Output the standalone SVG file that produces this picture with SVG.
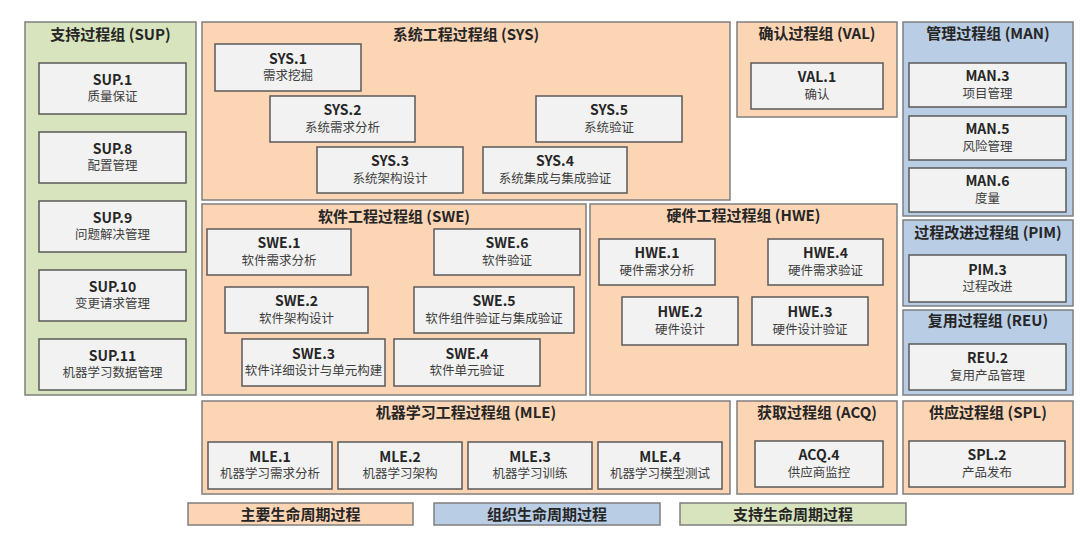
<svg xmlns="http://www.w3.org/2000/svg" width="1080" height="534" viewBox="0 0 1080 534">
<style>
text{font-family:"Noto Sans CJK SC","Noto Sans",sans-serif;text-anchor:middle}
.o{fill:#fcd5b5;stroke:#7f7f7f;stroke-width:1.5}
.b{fill:#b9cde5;stroke:#7f7f7f;stroke-width:1.5}
.g{fill:#d7e4bd;stroke:#7f7f7f;stroke-width:1.5}
.n{fill:#f2f2f2;stroke:#595959;stroke-width:1.5}
.t{font-size:15px;font-weight:bold;fill:#262626}
.id{font-size:14px;font-weight:bold;fill:#262626}
.lb{font-family:"Liberation Sans","Noto Sans CJK SC",sans-serif;font-size:12.5px;fill:#404040}
.lg{font-size:15px;font-weight:bold;fill:#262626}
</style>
<rect width="1080" height="534" fill="#ffffff"/>
<g id="grp-SUP"><rect class="g" x="25" y="22" width="171" height="373"/><text class="t" x="110.5" y="40">支持过程组 (SUP)</text></g>
<g id="grp-SYS"><rect class="o" x="202" y="22" width="528" height="178"/><text class="t" x="466" y="39.5">系统工程过程组 (SYS)</text></g>
<g id="grp-VAL"><rect class="o" x="737" y="22" width="160" height="95"/><text class="t" x="817" y="38.5">确认过程组 (VAL)</text></g>
<g id="grp-MAN"><rect class="b" x="903" y="22" width="170" height="194"/><text class="t" x="988" y="38.5">管理过程组 (MAN)</text></g>
<g id="grp-SWE"><rect class="o" x="202" y="204" width="384" height="191"/><text class="t" x="394" y="222">软件工程过程组 (SWE)</text></g>
<g id="grp-HWE"><rect class="o" x="590" y="204" width="307" height="191"/><text class="t" x="743.5" y="220.5">硬件工程过程组 (HWE)</text></g>
<g id="grp-PIM"><rect class="b" x="903" y="220" width="170" height="86"/><text class="t" x="988" y="237.5">过程改进过程组 (PIM)</text></g>
<g id="grp-REU"><rect class="b" x="903" y="310" width="170" height="85"/><text class="t" x="988" y="325.5">复用过程组 (REU)</text></g>
<g id="grp-MLE"><rect class="o" x="202" y="401" width="528" height="93"/><text class="t" x="466" y="418">机器学习工程过程组 (MLE)</text></g>
<g id="grp-ACQ"><rect class="o" x="737" y="401" width="160" height="93"/><text class="t" x="817" y="418">获取过程组 (ACQ)</text></g>
<g id="grp-SPL"><rect class="o" x="903" y="401" width="170" height="93"/><text class="t" x="988" y="418">供应过程组 (SPL)</text></g>
<g id="SUP1"><rect class="n" x="39" y="63" width="147" height="51"/><text class="id" x="112.5" y="84.5">SUP.1</text><text class="lb" x="112.5" y="101">质量保证</text></g>
<g id="SUP8"><rect class="n" x="39" y="132" width="147" height="51"/><text class="id" x="112.5" y="153.5">SUP.8</text><text class="lb" x="112.5" y="170">配置管理</text></g>
<g id="SUP9"><rect class="n" x="39" y="201" width="147" height="51"/><text class="id" x="112.5" y="222.5">SUP.9</text><text class="lb" x="112.5" y="239">问题解决管理</text></g>
<g id="SUP10"><rect class="n" x="39" y="270" width="147" height="51"/><text class="id" x="112.5" y="291.5">SUP.10</text><text class="lb" x="112.5" y="308">变更请求管理</text></g>
<g id="SUP11"><rect class="n" x="39" y="339" width="147" height="51"/><text class="id" x="112.5" y="360.5">SUP.11</text><text class="lb" x="112.5" y="377">机器学习数据管理</text></g>
<g id="SYS1"><rect class="n" x="215" y="44" width="146" height="47"/><text class="id" x="288" y="63.5">SYS.1</text><text class="lb" x="288" y="80">需求挖掘</text></g>
<g id="SYS2"><rect class="n" x="270" y="96" width="145" height="46"/><text class="id" x="342.5" y="115">SYS.2</text><text class="lb" x="342.5" y="131.5">系统需求分析</text></g>
<g id="SYS3"><rect class="n" x="317" y="147" width="146" height="46"/><text class="id" x="390" y="166">SYS.3</text><text class="lb" x="390" y="182.5">系统架构设计</text></g>
<g id="SYS4"><rect class="n" x="483" y="147" width="144" height="46"/><text class="id" x="555" y="166">SYS.4</text><text class="lb" x="555" y="182.5">系统集成与集成验证</text></g>
<g id="SYS5"><rect class="n" x="536" y="96" width="146" height="46"/><text class="id" x="609" y="115">SYS.5</text><text class="lb" x="609" y="131.5">系统验证</text></g>
<g id="VAL1"><rect class="n" x="751" y="63" width="132" height="46"/><text class="id" x="817" y="82">VAL.1</text><text class="lb" x="817" y="98.5">确认</text></g>
<g id="MAN3"><rect class="n" x="909" y="63" width="157" height="44"/><text class="id" x="987.5" y="81">MAN.3</text><text class="lb" x="987.5" y="97.5">项目管理</text></g>
<g id="MAN5"><rect class="n" x="909" y="116" width="157" height="44"/><text class="id" x="987.5" y="134">MAN.5</text><text class="lb" x="987.5" y="150.5">风险管理</text></g>
<g id="MAN6"><rect class="n" x="909" y="168" width="157" height="44"/><text class="id" x="987.5" y="186">MAN.6</text><text class="lb" x="987.5" y="202.5">度量</text></g>
<g id="PIM3"><rect class="n" x="909" y="255" width="157" height="47"/><text class="id" x="987.5" y="274.5">PIM.3</text><text class="lb" x="987.5" y="291">过程改进</text></g>
<g id="REU2"><rect class="n" x="909" y="344" width="157" height="46"/><text class="id" x="987.5" y="363">REU.2</text><text class="lb" x="987.5" y="379.5">复用产品管理</text></g>
<g id="SWE1"><rect class="n" x="207" y="229" width="144" height="46"/><text class="id" x="279" y="248">SWE.1</text><text class="lb" x="279" y="264.5">软件需求分析</text></g>
<g id="SWE6"><rect class="n" x="434" y="229" width="146" height="46"/><text class="id" x="507" y="248">SWE.6</text><text class="lb" x="507" y="264.5">软件验证</text></g>
<g id="SWE2"><rect class="n" x="225" y="287" width="143" height="46"/><text class="id" x="296.5" y="306">SWE.2</text><text class="lb" x="296.5" y="322.5">软件架构设计</text></g>
<g id="SWE5"><rect class="n" x="414" y="287" width="160" height="46"/><text class="id" x="494" y="306">SWE.5</text><text class="lb" x="494" y="322.5">软件组件验证与集成验证</text></g>
<g id="SWE3"><rect class="n" x="242" y="339" width="143" height="47"/><text class="id" x="313.5" y="358.5">SWE.3</text><text class="lb" x="313.5" y="375">软件详细设计与单元构建</text></g>
<g id="SWE4"><rect class="n" x="394" y="339" width="146" height="47"/><text class="id" x="467" y="358.5">SWE.4</text><text class="lb" x="467" y="375">软件单元验证</text></g>
<g id="HWE1"><rect class="n" x="599" y="239" width="116" height="46"/><text class="id" x="657" y="258">HWE.1</text><text class="lb" x="657" y="274.5">硬件需求分析</text></g>
<g id="HWE4"><rect class="n" x="768" y="239" width="115" height="46"/><text class="id" x="825.5" y="258">HWE.4</text><text class="lb" x="825.5" y="274.5">硬件需求验证</text></g>
<g id="HWE2"><rect class="n" x="622" y="297" width="116" height="48"/><text class="id" x="680" y="317">HWE.2</text><text class="lb" x="680" y="333.5">硬件设计</text></g>
<g id="HWE3"><rect class="n" x="752" y="297" width="116" height="48"/><text class="id" x="810" y="317">HWE.3</text><text class="lb" x="810" y="333.5">硬件设计验证</text></g>
<g id="MLE1"><rect class="n" x="208" y="442" width="124" height="47"/><text class="id" x="270" y="461.5">MLE.1</text><text class="lb" x="270" y="478">机器学习需求分析</text></g>
<g id="MLE2"><rect class="n" x="338" y="442" width="124" height="47"/><text class="id" x="400" y="461.5">MLE.2</text><text class="lb" x="400" y="478">机器学习架构</text></g>
<g id="MLE3"><rect class="n" x="468" y="442" width="124" height="47"/><text class="id" x="530" y="461.5">MLE.3</text><text class="lb" x="530" y="478">机器学习训练</text></g>
<g id="MLE4"><rect class="n" x="598" y="442" width="124" height="47"/><text class="id" x="660" y="461.5">MLE.4</text><text class="lb" x="660" y="478">机器学习模型测试</text></g>
<g id="ACQ4"><rect class="n" x="755" y="441" width="128" height="46"/><text class="id" x="819" y="460">ACQ.4</text><text class="lb" x="819" y="476.5">供应商监控</text></g>
<g id="SPL2"><rect class="n" x="909" y="441" width="156" height="46"/><text class="id" x="987" y="460">SPL.2</text><text class="lb" x="987" y="476.5">产品发布</text></g>
<g id="connectors"></g>
<g id="legend-primary"><rect class="o" x="188" y="503" width="225" height="22"/><text class="lg" x="300.5" y="519.5">主要生命周期过程</text></g>
<g id="legend-org"><rect class="b" x="434" y="503" width="226" height="22"/><text class="lg" x="547" y="519.5">组织生命周期过程</text></g>
<g id="legend-support"><rect class="g" x="680" y="503" width="226" height="22"/><text class="lg" x="793" y="519.5">支持生命周期过程</text></g>
</svg>
